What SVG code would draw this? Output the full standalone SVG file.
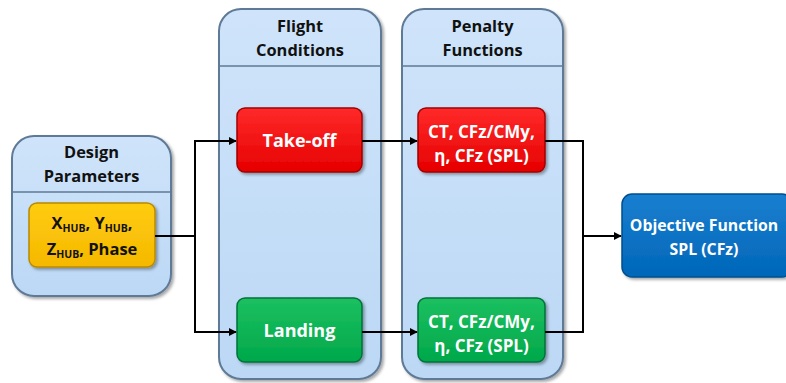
<svg xmlns="http://www.w3.org/2000/svg" width="786" height="383" viewBox="0 0 786 383">
<defs>
<linearGradient id="gCont" x1="0" y1="0" x2="0" y2="1"><stop offset="0" stop-color="#cfe4fa"/><stop offset="1" stop-color="#bcd8f5"/></linearGradient>
<linearGradient id="gRed" x1="0" y1="0" x2="0" y2="1"><stop offset="0" stop-color="#ff2a2a"/><stop offset="1" stop-color="#e60000"/></linearGradient>
<linearGradient id="gGreen" x1="0" y1="0" x2="0" y2="1"><stop offset="0" stop-color="#1cc060"/><stop offset="1" stop-color="#00a84a"/></linearGradient>
<linearGradient id="gYel" x1="0" y1="0" x2="0" y2="1"><stop offset="0" stop-color="#ffcc10"/><stop offset="1" stop-color="#f5b800"/></linearGradient>
<linearGradient id="gBlue" x1="0" y1="0" x2="0" y2="1"><stop offset="0" stop-color="#1a7fd0"/><stop offset="1" stop-color="#0066b8"/></linearGradient>
<filter id="sh" x="-10%" y="-10%" width="130%" height="130%"><feDropShadow dx="2" dy="2" stdDeviation="1.5" flood-color="#000" flood-opacity="0.35"/></filter>
<marker id="arr" viewBox="0 0 10 10" refX="9" refY="5" markerWidth="8" markerHeight="8" markerUnits="userSpaceOnUse" orient="auto"><path d="M0,0 L10,5 L0,10 z" fill="#000"/></marker>
</defs>
<style>
.cont{fill:url(#gCont);stroke:#5f7a96;stroke-width:2;filter:url(#sh)}
.div{stroke:#5f7a96;stroke-width:1.5}
.hdr{font-family:"Open Sans",sans-serif;font-weight:bold;font-size:16.4px;fill:#111;text-anchor:middle}
.lbl{font-family:"Open Sans",sans-serif;font-weight:bold;font-size:17px;fill:#fff;text-anchor:middle}
.big{font-size:18px}
.obj{font-size:15.8px}
.red{fill:url(#gRed);stroke:#a40000;stroke-width:1.5;filter:url(#sh)}
.green{fill:url(#gGreen);stroke:#00733a;stroke-width:1.5;filter:url(#sh)}
.yel{fill:url(#gYel);stroke:#b88a00;stroke-width:1.5;filter:url(#sh)}
.blue{fill:url(#gBlue);stroke:#004f8f;stroke-width:1.5;filter:url(#sh)}
.con{fill:none;stroke:#000;stroke-width:2}
.sub{font-size:10.5px}
</style>
<g id="design-parameters">
<rect class="cont" x="12" y="136" width="159" height="160" rx="22"/>
<line class="div" x1="13" y1="192" x2="170" y2="192"/>
<text class="hdr" x="91.5" y="158">Design</text>
<text class="hdr" x="91.5" y="182">Parameters</text>
</g>
<g id="design-vars">
<rect class="yel" x="29" y="203" width="126" height="64" rx="8"/>
<text class="hdr" x="92" y="229" style="font-size:16.5px">X<tspan class="sub" dy="3">HUB</tspan><tspan dy="-3">, Y</tspan><tspan class="sub" dy="3">HUB</tspan><tspan dy="-3">,</tspan></text>
<text class="hdr" x="92" y="255" style="font-size:16.5px">Z<tspan class="sub" dy="3">HUB</tspan><tspan dy="-3">, Phase</tspan></text>
</g>
<g id="flight-conditions">
<rect class="cont" x="219" y="9" width="162" height="370" rx="22"/>
<line class="div" x1="220" y1="66" x2="380" y2="66"/>
<text class="hdr" x="300" y="32">Flight</text>
<text class="hdr" x="300" y="56">Conditions</text>
</g>
<g id="penalty-functions">
<rect class="cont" x="402" y="9" width="161" height="370" rx="22"/>
<line class="div" x1="403" y1="66" x2="562" y2="66"/>
<text class="hdr" x="482.5" y="32">Penalty</text>
<text class="hdr" x="482.5" y="56">Functions</text>
</g>
<g id="take-off">
<rect class="red" x="237" y="108" width="125" height="64" rx="8"/>
<text class="lbl big" x="299.5" y="147">Take-off</text>
</g>
<g id="landing">
<rect class="green" x="237" y="298" width="125" height="64" rx="8"/>
<text class="lbl big" x="299.5" y="337">Landing</text>
</g>
<g id="penalty-takeoff">
<rect class="red" x="418" y="108" width="127" height="64" rx="8"/>
<text class="lbl" x="481.5" y="138">CT, CFz/CMy,</text>
<text class="lbl" x="481.5" y="162">η, CFz (SPL)</text>
</g>
<g id="penalty-landing">
<rect class="green" x="418" y="298" width="127" height="64" rx="8"/>
<text class="lbl" x="481.5" y="328">CT, CFz/CMy,</text>
<text class="lbl" x="481.5" y="352">η, CFz (SPL)</text>
</g>
<g id="objective">
<rect class="blue" x="622" y="194" width="170" height="83" rx="10"/>
<text class="lbl obj" x="704" y="231">Objective Function</text>
<text class="lbl obj" x="704" y="255">SPL (CFz)</text>
</g>
<g id="connectors">
<polyline class="con" points="155,236 195,236"/>
<polyline class="con" points="195,141 195,332"/>
<line class="con" x1="194" y1="141" x2="236" y2="141" marker-end="url(#arr)"/>
<line class="con" x1="194" y1="332" x2="236" y2="332" marker-end="url(#arr)"/>
<line class="con" x1="362" y1="141" x2="417" y2="141" marker-end="url(#arr)"/>
<line class="con" x1="362" y1="332" x2="417" y2="332" marker-end="url(#arr)"/>
<polyline class="con" points="545,141 583,141 583,332 545,332"/>
<line class="con" x1="583" y1="236" x2="621" y2="236" marker-end="url(#arr)"/>
</g>
</svg>
